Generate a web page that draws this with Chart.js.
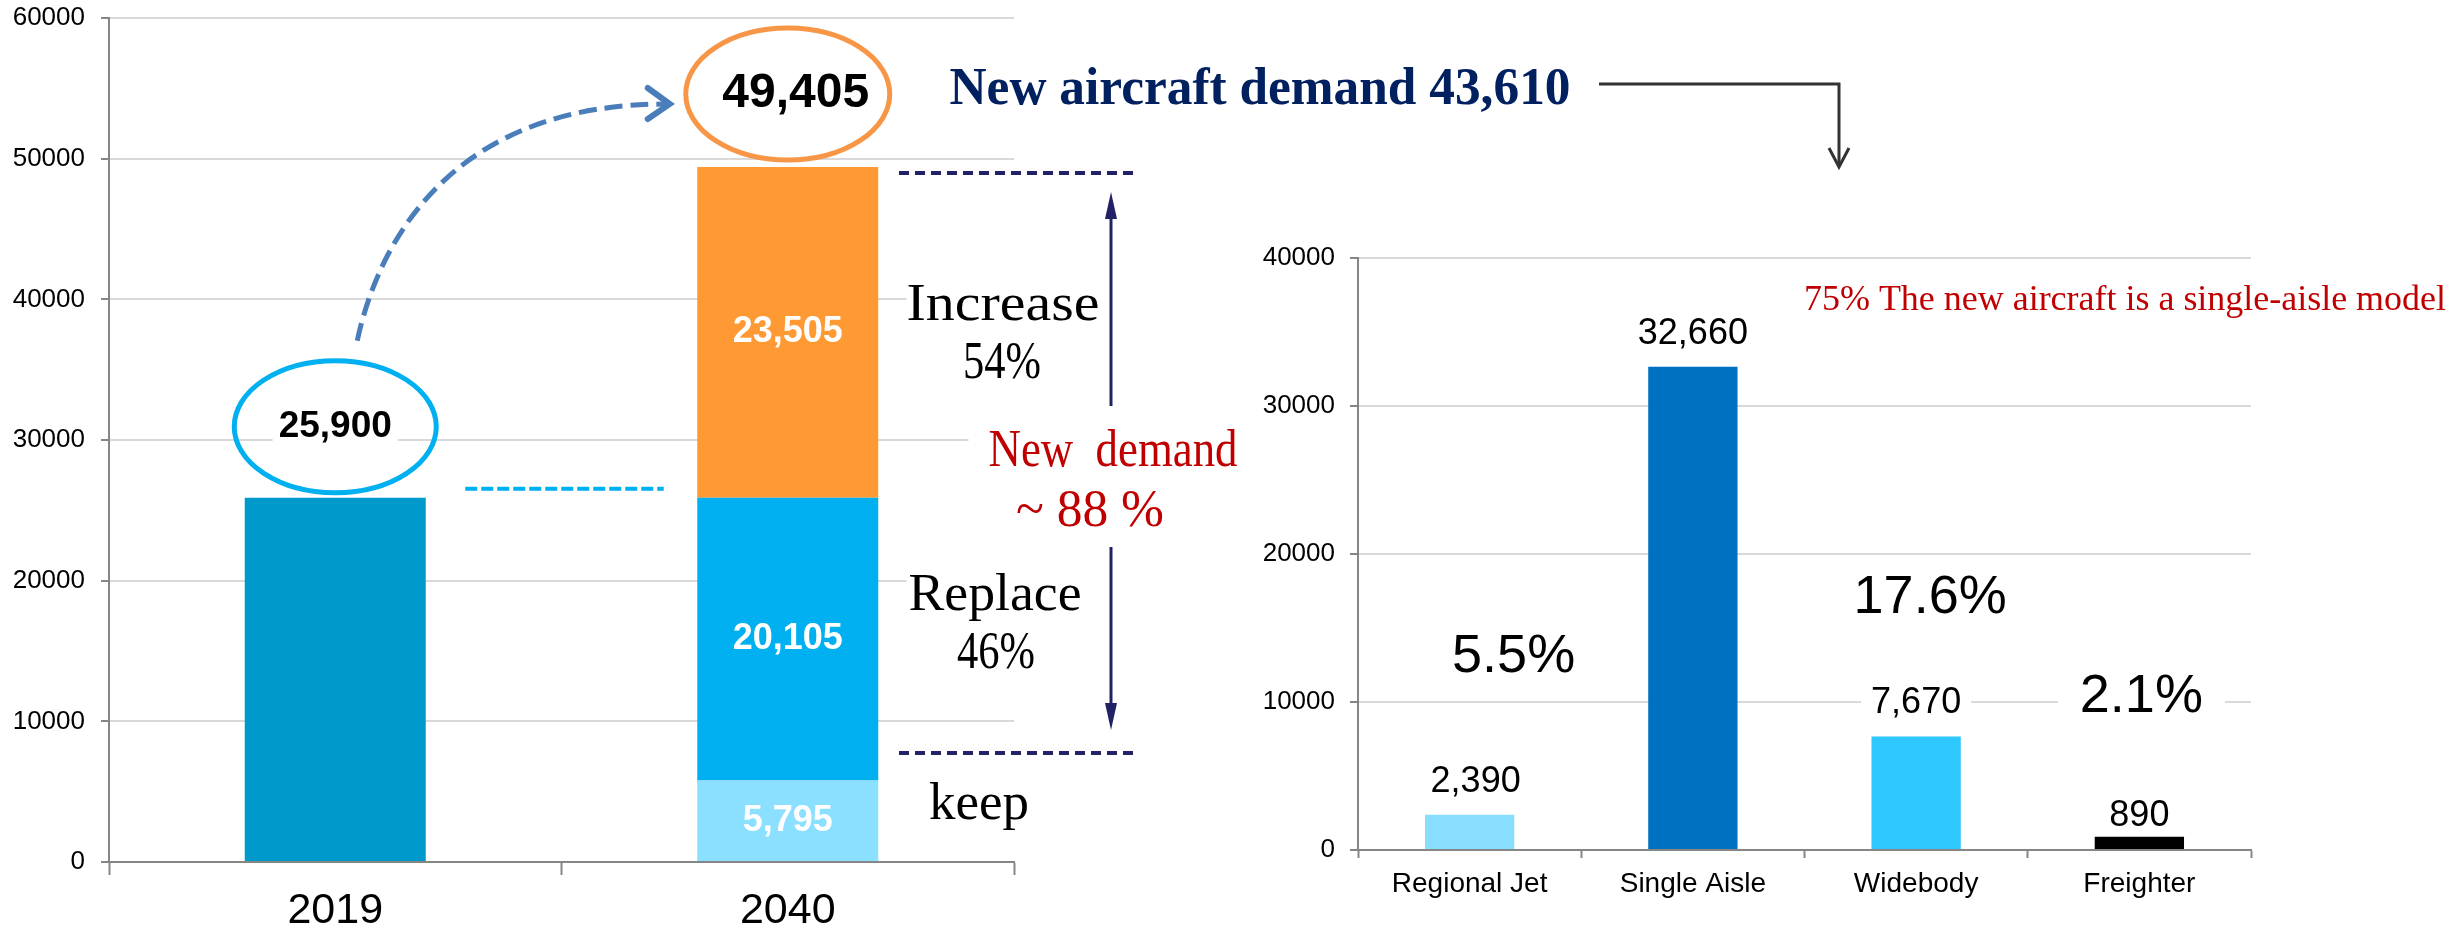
<!DOCTYPE html>
<html>
<head>
<meta charset="utf-8">
<script src="https://cdn.jsdelivr.net/npm/chart.js@4.4.1/dist/chart.umd.min.js"></script>
<style>
  html, body { margin: 0; padding: 0; background: #fff; }
  #wrap { position: relative; width: 2458px; height: 937px; }
  canvas { position: absolute; left: 0; top: 0; }
</style>
</head>
<body>
<div id="wrap">
  <canvas id="fleetChart" width="2458" height="937"></canvas>
  <canvas id="typeChart" width="2458" height="937"></canvas>
</div>
<script>
// fleet 2019 vs 2040
const years = ['2019', '2040'];
const fleet2019 = [25900, null];
const keepFleet = [null, 5795];
const replaceFleet = [null, 20105];
const increaseFleet = [null, 23505];
const fleetTicks = [0, 10000, 20000, 30000, 40000, 50000, 60000];

// new aircraft demand by type
const types = ['Regional Jet', 'Single Aisle', 'Widebody', 'Freighter'];
const typeDemand = [2390, 32660, 7670, 890];
const typeShare = ['5.5%', '', '17.6%', '2.1%'];
const typeTicks = [0, 10000, 20000, 30000, 40000];

const SANS = '"Liberation Sans", Arial, sans-serif';
const SERIF = '"Liberation Serif", "Times New Roman", serif';
Chart.defaults.font.family = SANS;
Chart.defaults.color = '#000';

const fmt = v => v.toLocaleString('en-US');

// draw text squeezed/stretched to a given width (the original uses a monospaced serif)
function fitText(ctx, text, cx, baseline, font, color, width, bgPad) {
  ctx.save();
  ctx.font = font;
  const m = ctx.measureText(text);
  if (bgPad != null) {
    ctx.fillStyle = '#fff';
    ctx.fillRect(cx - width / 2 - bgPad, baseline - m.actualBoundingBoxAscent - 5,
      width + bgPad * 2, m.actualBoundingBoxAscent + m.actualBoundingBoxDescent + 10);
  }
  ctx.translate(cx, baseline);
  ctx.scale(width / m.width, 1);
  ctx.textAlign = 'center';
  ctx.textBaseline = 'alphabetic';
  ctx.fillStyle = color;
  ctx.fillText(text, 0, 0);
  ctx.restore();
}

function labelBox(ctx, text, cx, cy, font, color, pad) {
  ctx.save();
  ctx.font = font;
  const m = ctx.measureText(text);
  const h = m.actualBoundingBoxAscent + m.actualBoundingBoxDescent;
  if (pad != null) {
    ctx.fillStyle = '#fff';
    ctx.fillRect(cx - m.width / 2 - pad, cy - h / 2 - 6, m.width + pad * 2, h + 12);
  }
  ctx.fillStyle = color;
  ctx.textAlign = 'center';
  ctx.textBaseline = 'middle';
  ctx.fillText(text, cx, cy);
  ctx.restore();
}

function dashLine(ctx, x1, y1, x2, y2, color, width, dash) {
  ctx.save();
  ctx.strokeStyle = color;
  ctx.lineWidth = width;
  ctx.setLineDash(dash);
  ctx.beginPath();
  ctx.moveTo(x1, y1);
  ctx.lineTo(x2, y2);
  ctx.stroke();
  ctx.restore();
}

function solidArrow(ctx, x, yFrom, yTo, color) {
  const dir = yTo < yFrom ? -1 : 1;
  ctx.save();
  ctx.strokeStyle = color;
  ctx.fillStyle = color;
  ctx.lineWidth = 3;
  ctx.beginPath();
  ctx.moveTo(x, yFrom);
  ctx.lineTo(x, yTo - dir * 20);
  ctx.stroke();
  ctx.beginPath();
  ctx.moveTo(x, yTo);
  ctx.lineTo(x - 6, yTo - dir * 27);
  ctx.lineTo(x + 6, yTo - dir * 27);
  ctx.closePath();
  ctx.fill();
  ctx.restore();
}

const fleetNotes = {
  id: 'fleetNotes',
  afterDraw(chart) {
    const { ctx, scales: { y } } = chart;
    const bar19 = chart.getDatasetMeta(0).data[0];
    const top40 = chart.getDatasetMeta(3).data[1];

    // segment values inside the 2040 bar
    [1, 2, 3].forEach(di => {
      const el = chart.getDatasetMeta(di).data[1];
      labelBox(ctx, fmt(chart.data.datasets[di].data[1]), el.x, (el.y + el.base) / 2,
        'bold 36px ' + SANS, '#fff');
    });

    // totals in ellipses
    const totals = years.map((_, i) => chart.data.datasets.reduce((s, d) => s + (d.data[i] || 0), 0));
    const e1 = { x: bar19.x, y: y.getPixelForValue(totals[0]) - 71 };
    const e2 = { x: top40.x, y: y.getPixelForValue(totals[1]) - 73 };
    ctx.save();
    ctx.lineWidth = 5;
    ctx.strokeStyle = '#00B0F0';
    ctx.beginPath();
    ctx.ellipse(e1.x, e1.y, 101, 66, 0, 0, Math.PI * 2);
    ctx.stroke();
    ctx.strokeStyle = '#F79646';
    ctx.beginPath();
    ctx.ellipse(e2.x, e2.y, 102, 66, 0, 0, Math.PI * 2);
    ctx.stroke();
    ctx.restore();
    labelBox(ctx, fmt(totals[0]), e1.x, e1.y, 'bold 37px ' + SANS, '#000', 6);
    labelBox(ctx, fmt(totals[1]), e2.x + 8, e2.y, 'bold 48px ' + SANS, '#000');

    // dashed curved arrow 2019 -> 2040
    const s = { x: e1.x + 22, y: e1.y - 86 };
    const t = { x: e2.x - 118, y: e2.y + 10 };
    ctx.save();
    ctx.strokeStyle = '#4A7EBB';
    ctx.lineWidth = 5;
    ctx.setLineDash([18, 8]);
    ctx.beginPath();
    ctx.moveTo(s.x, s.y);
    ctx.bezierCurveTo(s.x + 24, s.y - 111, s.x + 104, t.y, t.x - 4, t.y);
    ctx.stroke();
    ctx.setLineDash([]);
    ctx.lineWidth = 6;
    ctx.lineCap = 'round';
    ctx.beginPath();
    ctx.moveTo(t.x - 22, t.y - 16);
    ctx.lineTo(t.x, t.y);
    ctx.lineTo(t.x - 22, t.y + 15);
    ctx.stroke();
    ctx.restore();

    // 2019 level marker
    const lvl = y.getPixelForValue(fleet2019[0]) - 9;
    dashLine(ctx, bar19.x + 130, lvl, top40.x - 124, lvl, '#00B0F0', 4, [12, 4]);

    // bracket for new demand
    const navy = '#212165';
    dashLine(ctx, 899, 173, 1136, 173, navy, 4, [10, 6]);
    dashLine(ctx, 899, 753, 1136, 753, navy, 4, [10, 6]);
    solidArrow(ctx, 1111, 406, 192, navy);
    solidArrow(ctx, 1111, 547, 730, navy);

    fitText(ctx, 'Increase', 1003, 320, '52px ' + SERIF, '#000', 193, 0);
    fitText(ctx, '54%', 1002, 378, '52px ' + SERIF, '#000', 78);
    fitText(ctx, 'Replace', 995, 610, '52px ' + SERIF, '#000', 173, 2);
    fitText(ctx, '46%', 996, 668, '52px ' + SERIF, '#000', 78);
    fitText(ctx, 'keep', 979, 819, '52px ' + SERIF, '#000', 100);
    fitText(ctx, 'New  demand', 1113, 466, '52px ' + SERIF, '#C00000', 249, 20);
    fitText(ctx, '~ 88 %', 1090, 526, '52px ' + SERIF, '#C00000', 148);

    // heading and link to the type chart
    fitText(ctx, 'New aircraft demand 43,610', 1260, 104, 'bold 52px ' + SERIF, '#002060', 621);
    ctx.save();
    ctx.strokeStyle = '#333';
    ctx.lineWidth = 3;
    ctx.beginPath();
    ctx.moveTo(1599, 84);
    ctx.lineTo(1839, 84);
    ctx.lineTo(1839, 166);
    ctx.stroke();
    ctx.beginPath();
    ctx.moveTo(1829, 148);
    ctx.lineTo(1839, 167);
    ctx.lineTo(1849, 148);
    ctx.stroke();
    ctx.restore();
  }
};

new Chart(document.getElementById('fleetChart'), {
  type: 'bar',
  data: {
    labels: years,
    datasets: [
      { label: '2019', data: fleet2019, backgroundColor: '#0099CC' },
      { label: 'keep', data: keepFleet, backgroundColor: '#8BDFFF' },
      { label: 'Replace', data: replaceFleet, backgroundColor: '#00B0F0' },
      { label: 'Increase', data: increaseFleet, backgroundColor: '#FF9933' }
    ]
  },
  options: {
    responsive: false,
    animation: false,
    events: [],
    layout: { padding: { left: 0, top: 18, right: 2458 - 1014, bottom: 0 } },
    datasets: { bar: { barPercentage: 0.4, categoryPercentage: 1 } },
    plugins: { legend: { display: false }, tooltip: { enabled: false } },
    scales: {
      x: {
        stacked: true,
        grid: { offset: true, drawOnChartArea: false, tickLength: 13, tickColor: '#868686', tickWidth: 2 },
        border: { color: '#868686', width: 2 },
        ticks: { font: { size: 43 }, padding: 10 },
        afterFit: s => { s.height = 75; }
      },
      y: {
        stacked: true,
        min: fleetTicks[0],
        max: fleetTicks[fleetTicks.length - 1],
        afterBuildTicks: s => { s.ticks = fleetTicks.map(v => ({ value: v })); },
        ticks: { font: { size: 26 }, padding: 16, callback: v => String(v) },
        grid: { color: '#D9D9D9', lineWidth: 2, tickLength: 8, tickColor: '#868686', tickWidth: 2 },
        border: { color: '#868686', width: 2 },
        afterFit: s => { s.width = 109; s.paddingTop = 0; s.paddingBottom = 0; }
      }
    }
  },
  plugins: [fleetNotes]
});

const typeNotes = {
  id: 'typeNotes',
  afterDraw(chart) {
    const { ctx, scales: { y } } = chart;
    const bars = chart.getDatasetMeta(0).data;
    // share labels: horizontal nudge and height (in units) for each
    const shareAt = [[44, 13000], [0, 0], [14, 17000], [2, 10300]];
    const lift = [33, 33, 33, 21];
    bars.forEach((el, i) => {
      labelBox(ctx, fmt(typeDemand[i]), el.x + (i === 0 ? 6 : 0), el.y - lift[i], '36px ' + SANS, '#000', 10);
      if (typeShare[i]) {
        labelBox(ctx, typeShare[i], el.x + shareAt[i][0], y.getPixelForValue(shareAt[i][1]),
          '54px ' + SANS, '#000', 22);
      }
    });
    fitText(ctx, '75% The new aircraft is a single-aisle model', 2125, 310, '35px ' + SERIF, '#C00000', 642);
  }
};

new Chart(document.getElementById('typeChart'), {
  type: 'bar',
  data: {
    labels: types,
    datasets: [{
      label: 'New aircraft',
      data: typeDemand,
      backgroundColor: ['#87DEFF', '#0070C0', '#2EC8FF', '#000000']
    }]
  },
  options: {
    responsive: false,
    animation: false,
    events: [],
    layout: { padding: { left: 1258, top: 258, right: 2458 - 2251, bottom: 0 } },
    datasets: { bar: { barPercentage: 0.4, categoryPercentage: 1 } },
    plugins: { legend: { display: false }, tooltip: { enabled: false } },
    scales: {
      x: {
        grid: { offset: true, drawOnChartArea: false, tickLength: 8, tickColor: '#868686', tickWidth: 2 },
        border: { color: '#868686', width: 2 },
        ticks: { font: { size: 28 }, padding: 9 },
        afterFit: s => { s.height = 87; }
      },
      y: {
        min: typeTicks[0],
        max: typeTicks[typeTicks.length - 1],
        afterBuildTicks: s => { s.ticks = typeTicks.map(v => ({ value: v })); },
        ticks: { font: { size: 26 }, padding: 15, callback: v => String(v) },
        grid: { color: '#D9D9D9', lineWidth: 2, tickLength: 8, tickColor: '#868686', tickWidth: 2 },
        border: { color: '#868686', width: 2 },
        afterFit: s => { s.width = 100; }
      }
    }
  },
  plugins: [typeNotes]
});
</script>
</body>
</html>
